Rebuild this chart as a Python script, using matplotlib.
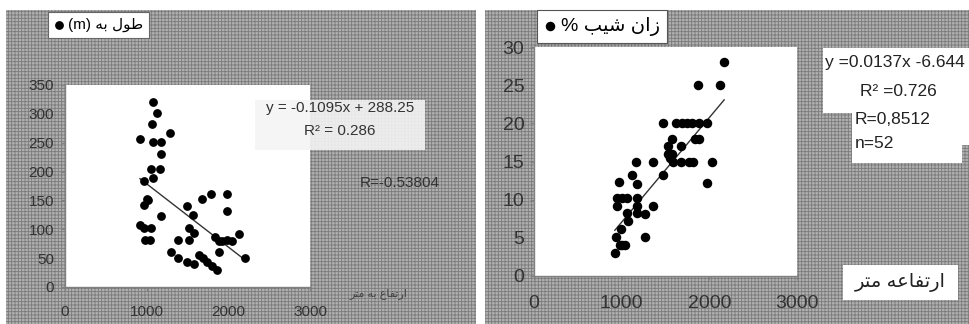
import matplotlib
matplotlib.use('Agg')
import matplotlib.pyplot as plt
from matplotlib.patches import Rectangle
import numpy as np

plt.rcParams['font.family'] = ['Liberation Sans', 'DejaVu Sans']
plt.rcParams['hatch.linewidth'] = 0.6

# --- data ---
# left: stream length (m) vs elevation (m)
len_x = [1082, 1131, 1061, 918, 1082, 1180, 1286, 1172, 1053, 1163, 1082, 967,
         1000, 967, 1020, 918, 967, 1049, 980, 1041, 1172, 1298, 1380, 1380,
         1490, 1523, 1523, 1584, 1572, 1498, 1584, 1645, 1674, 1788, 1694, 1743,
         1804, 1857, 1837, 1886, 1890, 1988, 1988, 1980, 2041, 2135, 2204, 1919]
len_y = [321, 302, 282, 256, 252, 252, 267, 230, 204, 204, 188, 184,
         152, 142, 151, 107, 103, 102, 81, 81, 123, 61, 81, 51,
         141, 103, 81, 93, 124, 44, 39, 55, 152, 162, 50, 44,
         37, 29, 87, 80, 60, 162, 132, 81, 79, 91, 50, 79]
len_fit = (-0.1095, 288.25)

# right: slope (%) vs elevation (m)
slp_x = [2169, 1876, 2123, 1475, 1620, 1685, 1742, 1799, 1887, 1971, 1837, 1887,
         1578, 1525, 1674, 1532, 1570, 1590, 1677, 1769, 1818, 2028, 1361, 1163,
         1475, 1113, 1170, 972, 1978, 942, 999, 1056, 1170, 949, 1170, 1361,
         1056, 1170, 1266, 1075, 991, 930, 1266, 980, 1037, 922, 1000, 1550]
slp_y = [28, 25, 25, 20, 20, 20, 20, 20, 20, 20, 18, 18,
         18, 17, 17, 16, 16, 15, 15, 15, 15, 15, 15, 15,
         13.2, 13.2, 12.1, 12.3, 12.2, 10.2, 10.2, 10.2, 10.2, 9.2, 9.2, 9.2,
         8.3, 8.2, 8.1, 7.2, 6.1, 5.1, 5.1, 4.1, 4.1, 3, 4.1, 15.5]
slp_fit = (0.0137, -6.644)

left_yticks = [0, 50, 100, 150, 200, 250, 300, 350]
right_yticks = [0, 5, 10, 15, 20, 25, 30]
xticks = [0, 1000, 2000, 3000]

# Persian labels (no bidi/shaping in matplotlib, so written in visual order
# with Arabic presentation forms)
lbl_len = '(m) \uFEEA\uFE91 \uFEDD\uFEEE\uFEC3'                       # طول به (m)
lbl_slope = '% \uFE90\uFEF4\uFEB7 \uFEE5\uFE8D\uFEAF'                 # زان شیب %
xlab_left = '\uFEAE\uFE98\uFEE3 \uFEEA\uFE91 \uFEC9\uFE8E\uFED4\uFE97\uFEAD\uFE8D'  # ارتفاع به متر
xlab_right = '\uFEAE\uFE98\uFEE3 \uFEEA\uFECB\uFE8E\uFED4\uFE97\uFEAD\uFE8D'       # ارتفاعه متر

W, H = 969, 324


def px(x0, y0, x1, y1):
    # pixel box (from top-left) -> figure fraction rect
    return [x0 / W, 1 - y1 / H, (x1 - x0) / W, (y1 - y0) / H]


def fig_box(b, zorder, **kw):
    r = px(*b)
    fig.add_artist(Rectangle((r[0], r[1]), r[2], r[3], transform=fig.transFigure,
                             zorder=zorder, **kw))


fig = plt.figure(figsize=(W / 100, H / 100), dpi=100)

# halftone-like grey backgrounds
for b in [(6, 10, 476, 324), (485, 10, 969, 324)]:
    fig_box(b, -5, facecolor='#b0b0b0', edgecolor='#7a7a7a', linewidth=0, hatch='+++++')


def style(ax, fs, ypad, xpad):
    for s in ['top', 'right']:
        ax.spines[s].set_visible(False)
    for s in ['left', 'bottom']:
        ax.spines[s].set_color('#808080')
        ax.spines[s].set_linewidth(1)
    ax.tick_params(axis='y', length=3, pad=ypad, colors='#808080', labelcolor='#333333', labelsize=fs)
    ax.tick_params(axis='x', length=3, pad=xpad, colors='#808080', labelcolor='#333333', labelsize=fs)
    ax.set_facecolor('white')


# ---------- left panel ----------
ax1 = fig.add_axes(px(65, 85, 310, 287))
ax1.scatter(len_x, len_y, s=28, color='black', zorder=3, label=lbl_len)
xs = np.array([min(len_x), max(len_x)])
ax1.plot(xs, len_fit[0] * xs + len_fit[1], color='#333333', lw=1)
ax1.set_xlim(0, 3000)
ax1.set_ylim(0, 350)
ax1.set_xticks(xticks)
ax1.set_yticks(left_yticks)
style(ax1, 11, 5, 10)
leg = ax1.legend(loc='upper left', bbox_to_anchor=(48 / W, 1 - 12 / H),
                 bbox_transform=fig.transFigure, fancybox=False, edgecolor='#666666',
                 facecolor='white', framealpha=1, handletextpad=0.3, handlelength=0.6,
                 borderpad=0.4, fontsize=11, borderaxespad=0)
leg.get_frame().set_linewidth(0.8)

fig_box((255, 100, 425, 150), 2, facecolor='#f4f4f4', edgecolor='none', alpha=0.9)
fig.text(340 / W, 1 - 108 / H, 'y = -0.1095x + 288.25', ha='center', va='center',
         fontsize=11, color='#333333', zorder=3)
fig.text(340 / W, 1 - 131 / H, 'R² = 0.286', ha='center', va='center',
         fontsize=11, color='#333333', zorder=3)
fig.text(400 / W, 1 - 183 / H, 'R=-0.53804', ha='center', va='center',
         fontsize=11, color='#333333', zorder=3)
fig.text(378 / W, 1 - 294 / H, xlab_left, ha='center', va='center',
         fontsize=8, color='#444444', zorder=3)

# ---------- right panel ----------
ax2 = fig.add_axes(px(534, 47, 797, 276))
ax2.scatter(slp_x, slp_y, s=34, color='black', zorder=3, label=lbl_slope)
xs = np.array([min(slp_x), max(slp_x)])
ax2.plot(xs, slp_fit[0] * xs + slp_fit[1], color='#333333', lw=1)
ax2.set_xlim(0, 3000)
ax2.set_ylim(0, 30)
ax2.set_xticks(xticks)
ax2.set_yticks(right_yticks)
style(ax2, 14, 4, 11)
leg2 = ax2.legend(loc='upper left', bbox_to_anchor=(537 / W, 1 - 10 / H),
                  bbox_transform=fig.transFigure, fancybox=False, edgecolor='#555555',
                  facecolor='white', framealpha=1, handletextpad=0.3, handlelength=0.6,
                  borderpad=0.35, fontsize=14, borderaxespad=0)
leg2.get_frame().set_linewidth(0.8)

for b in [(823, 48, 969, 113), (852, 113, 962, 163), (962, 113, 969, 145)]:
    fig_box(b, 2, facecolor='white', edgecolor='none')
fig.text(825 / W, 1 - 63 / H, 'y =0.0137x -6.644', ha='left', va='center',
         fontsize=12.5, color='#222222', zorder=3)
fig.text(860 / W, 1 - 92 / H, 'R² =0.726', ha='left', va='center',
         fontsize=12.5, color='#222222', zorder=3)
fig.text(855 / W, 1 - 120 / H, 'R=0,8512', ha='left', va='center',
         fontsize=12.5, color='#222222', zorder=3)
fig.text(855 / W, 1 - 143 / H, 'n=52', ha='left', va='center',
         fontsize=12.5, color='#222222', zorder=3)

fig_box((843, 265, 958, 300), 2, facecolor='white', edgecolor='none')
fig.text(900 / W, 1 - 283 / H, xlab_right, ha='center', va='center',
         fontsize=14, color='#222222', zorder=3)

fig.savefig('out.png', dpi=100)
